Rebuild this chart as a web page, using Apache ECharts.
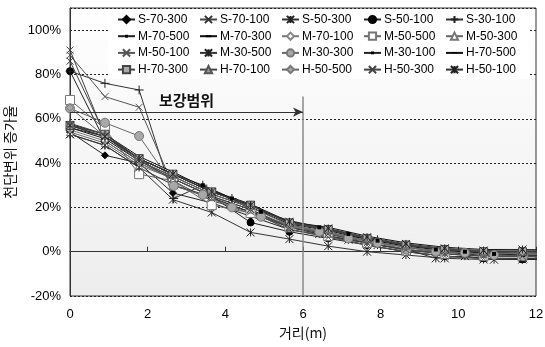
<!DOCTYPE html>
<html>
<head>
<meta charset="utf-8">
<script src="https://cdn.jsdelivr.net/npm/echarts@6/dist/echarts.min.js"></script>
<style>
  html, body { margin: 0; padding: 0; background: #fff; }
  #chart { width: 545px; height: 347px; }
</style>
</head>
<body>
<div id="chart"></div>
<script>
// Gauge distances (m). The "30" sections were read at a finer spacing.
const xMain = [0, 0.9, 1.78, 2.65, 3.65, 4.65, 5.65, 6.65, 7.65, 8.65, 9.65, 10.65, 11.65, 12.65];
const xFine = [0, 0.9, 1.78, 2.67, 3.42, 4.17, 4.92, 5.67, 6.42, 7.17, 7.92, 8.67, 9.42, 10.17, 10.92, 11.67, 12.42];

// Crown settlement increase ratio (%) per case
const S_70_300 = [54, 43.5, 40, 26.5, 22, 16, 10, 7, 4, 1, -1, -2, -2, -2.5];
const S_70_100 = [86, 53, 42, 32, 23, 18, 10, 7, 3, 0, -2, -3, -3, -3];
const S_50_300 = [53, 48, 38, 23.5, 17.7, 8.7, 5.7, 2.5, 0, -1.5, -3, -3.5, -3.5, -3.5];
const S_50_100 = [81.5, 50, 40, 33, 25, 13.2, 9, 6, 3, 0, -2, -3, -3.5, -3.5];
const S_30_100 = [81.5, 76, 73, 24, 30, 24, 16, 12, 9, 7, 5.4, 2, 0, -1, -2, -2, -2.5];
const M_70_500 = [57, 52, 42, 35, 27, 21, 13, 10, 6, 3, 1, 0, 0, -0.5];
const M_70_300 = [56, 51, 41, 34, 26, 20, 12.5, 9.5, 5.5, 2.5, 0.5, -0.5, -0.5, -1];
const M_70_100 = [55, 50, 40, 33, 25, 19, 11.5, 8.5, 5, 2, 0, -1, -1, -1.5];
const M_50_500 = [68.5, 55.5, 35, 32, 21, 17.5, 11, 7, 4, 0.5, -1, -2, -2, -2];
const M_50_300 = [54, 49, 39, 33, 25, 19, 11, 8, 5, 2, 0, -1, -1, -1.5];
const M_50_100 = [88.7, 70, 65.2, 30, 24, 18, 10, 6.5, 3, 0, -2, -3, -3, -3];
const M_30_500 = [53, 48, 38, 30, 26, 21, 16, 11, 8, 5.4, 3, 1, -3, -2, -3.6, -3, -3];
const M_30_300 = [64.7, 58.2, 52.2, 29.7, 25.7, 20, 15.8, 12, 9, 6, 4, 1, 0, -0.5, -1.5, -2, -2];
const M_30_100 = [56, 52, 42, 35, 30, 24, 18, 14, 11, 8, 5, 3, 1, 0, -1, -1.5, -2];
const H_70_500 = [57.5, 53, 43, 36, 27.5, 21.5, 13.5, 11, 7, 4, 2, 1, 1, 0.5];
const H_70_300 = [57, 53, 42, 35, 27, 21, 13, 10, 6, 3, 1, 0, 0, -0.5];
const H_70_100 = [58, 53, 42, 35, 27, 21, 13, 10, 6, 3, 1, 0, 0.5, 0];
const H_50_500 = [65, 52, 41, 34, 26, 20, 12, 9, 5, 2, 0, -1, -0.5, -1];
const H_50_300 = [91, 52, 41, 33, 25, 19, 11, 8, 4, 1, -1, -2, -2, -2];
const H_50_100 = [57, 52, 42, 35, 27, 21, 13.5, 10.5, 6.5, 3.5, 1.5, 0.5, 1, 0.5];

const caseNames = [
  'S-70-300', 'S-70-100', 'S-50-300', 'S-50-100', 'S-30-100',
  'M-70-500', 'M-70-300', 'M-70-100', 'M-50-500', 'M-50-300',
  'M-50-100', 'M-30-500', 'M-30-300', 'M-30-100', 'H-70-500',
  'H-70-300', 'H-70-100', 'H-50-500', 'H-50-300', 'H-50-100'
];
const caseValues = [
  S_70_300, S_70_100, S_50_300, S_50_100, S_30_100,
  M_70_500, M_70_300, M_70_100, M_50_500, M_50_300,
  M_50_100, M_30_500, M_30_300, M_30_100, H_70_500,
  H_70_300, H_70_100, H_50_500, H_50_300, H_50_100
];
const caseUsesFine = [
  false, false, false, false, true,
  false, false, false, false, false,
  false, true, true, true, false,
  false, false, false, false, false
];

// Axis ticks
const xTicks = { min: 0, max: 12, step: 2 };
const yTicks = { min: -20, max: 110, step: 20 };

// Reinforced span annotation
const spanLabel = '보강범위';
const spanFrom = 0, spanTo = 6, spanLevel = 63, spanLineTop = 70;

// Marker shapes (the leading moves pad the bounding box so small marks stay small)
const P_CROSS = 'path://M0 0L10 10M10 0L0 10';
const P_STAR = 'path://M0 0L10 10M10 0L0 10M5 0L5 10';
const P_PLUS = 'path://M5 0L5 10M0 5L10 5';
const P_DOT = 'path://M0 0M10 10M3 3h4v4h-4z';
const P_BAR = 'path://M0 0M10 10M1 3.6h8v2.8h-8z';
const P_THIN = 'path://M0 0M10 10M1 4.4h8v1.2h-8z';
const CLEAR = 'rgba(0,0,0,0)';

const markers = [
  { symbol: 'diamond', size: 7, fill: '#000', stroke: '#000', line: '#222' },
  { symbol: P_CROSS, size: 7, fill: CLEAR, stroke: '#333', line: '#444' },
  { symbol: P_STAR, size: 8, fill: CLEAR, stroke: '#222', line: '#333' },
  { symbol: 'circle', size: 7, fill: '#000', stroke: '#000', line: '#222' },
  { symbol: P_PLUS, size: 9, fill: CLEAR, stroke: '#222', line: '#333' },
  { symbol: P_DOT, size: 10, fill: '#000', stroke: CLEAR, line: '#222' },
  { symbol: P_BAR, size: 10, fill: '#000', stroke: CLEAR, line: '#111' },
  { symbol: 'diamond', size: 7, fill: '#fff', stroke: '#888', line: '#777' },
  { symbol: 'rect', size: 9, fill: '#fff', stroke: '#777', line: '#666' },
  { symbol: 'triangle', size: 7, fill: '#fff', stroke: '#777', line: '#666' },
  { symbol: P_CROSS, size: 7, fill: CLEAR, stroke: '#555', line: '#555' },
  { symbol: P_STAR, size: 8, fill: CLEAR, stroke: '#222', line: '#333' },
  { symbol: 'circle', size: 9, fill: '#a8a8a8', stroke: '#777', line: '#666' },
  { symbol: P_DOT, size: 10, fill: '#000', stroke: CLEAR, line: '#222' },
  { symbol: P_THIN, size: 10, fill: '#000', stroke: CLEAR, line: '#111' },
  { symbol: 'rect', size: 8, fill: '#aaa', stroke: '#444', line: '#444' },
  { symbol: 'triangle', size: 7, fill: '#999', stroke: '#555', line: '#444' },
  { symbol: 'diamond', size: 7, fill: '#aaa', stroke: '#777', line: '#666' },
  { symbol: P_CROSS, size: 7, fill: CLEAR, stroke: '#444', line: '#444' },
  { symbol: P_STAR, size: 8, fill: CLEAR, stroke: '#222', line: '#333' }
];

const FONT = '"Liberation Sans", Arial, sans-serif';
const KFONT = '"Noto Sans CJK KR", sans-serif';

const series = caseNames.map((name, i) => {
  const xs = caseUsesFine[i] ? xFine : xMain;
  const m = markers[i];
  return {
    name: name,
    type: 'line',
    data: caseValues[i].map((v, k) => [xs[k], v]),
    symbol: m.symbol,
    symbolSize: m.size,
    showAllSymbol: true,
    clip: true,
    animation: false,
    lineStyle: { color: m.line, width: 1 },
    itemStyle: { color: m.fill, borderColor: m.stroke, borderWidth: 1 },
    emphasis: { disabled: true },
    z: 3
  };
});

// Reinforcement range: arrow from the face and the boundary line at 6 m
series.push({
  name: 'span',
  type: 'line',
  data: [],
  silent: true,
  animation: false,
  markLine: {
    silent: true,
    animation: false,
    symbol: ['none', 'none'],
    data: [
      [
        { coord: [spanTo, yTicks.min], lineStyle: { color: '#8a8a8a', width: 1.5, type: 'solid' }, label: { show: false } },
        { coord: [spanTo, spanLineTop] }
      ],
      [
        { coord: [spanFrom, spanLevel], symbol: 'none', lineStyle: { color: '#333', width: 1, type: 'solid' },
          label: { show: true, position: 'middle', formatter: spanLabel, distance: 4,
                   fontFamily: KFONT, fontWeight: 'bold', fontSize: 15, color: '#111' } },
        { coord: [spanTo, spanLevel], symbol: 'arrow', symbolSize: [7, 10] }
      ]
    ]
  },
  z: 2
});

// One legend block per case, laid out in a 5 x 4 grid
const legendCol0 = 117, legendColStep = 82, legendRow0 = 13.5, legendRowStep = 16.7;
const legends = caseNames.map((name, i) => ({
  data: [name],
  left: legendCol0 + (i % 5) * legendColStep,
  top: legendRow0 + Math.floor(i / 5) * legendRowStep,
  orient: 'horizontal',
  padding: 0,
  itemGap: 0,
  itemWidth: 17,
  itemHeight: 9,
  selectedMode: false,
  textStyle: { fontFamily: FONT, fontSize: 12, color: '#000', padding: [0, 0, 0, -2] },
  z: 6
}));

const chart = echarts.init(document.getElementById('chart'), null, { renderer: 'canvas' });
chart.setOption({
  animation: false,
  backgroundColor: '#fff',
  grid: {
    left: 70, right: 9, top: 8, bottom: 51,
    outerBoundsMode: 'none',
    containLabel: false,
    show: true,
    borderColor: '#333',
    borderWidth: 1,
    backgroundColor: {
      type: 'linear', x: 0, y: 0, x2: 0, y2: 1,
      colorStops: [{ offset: 0, color: '#ffffff' }, { offset: 1, color: '#ededed' }]
    }
  },
  xAxis: {
    type: 'value',
    min: xTicks.min, max: xTicks.max, interval: xTicks.step,
    name: '거리(m)',
    nameLocation: 'middle',
    nameGap: 30,
    nameTextStyle: { fontFamily: KFONT, fontSize: 14, color: '#111' },
    axisLine: { lineStyle: { color: '#333', width: 1 } },
    axisTick: { show: true, inside: true, length: 5, lineStyle: { color: '#333' } },
    axisLabel: { fontFamily: FONT, fontSize: 13, color: '#000', margin: 12 },
    splitLine: { show: false }
  },
  yAxis: {
    type: 'value',
    min: yTicks.min, max: yTicks.max, interval: yTicks.step,
    name: '천단변위 증가율',
    nameLocation: 'middle',
    nameRotate: 90,
    nameGap: 46,
    nameTextStyle: { fontFamily: KFONT, fontSize: 14, color: '#111' },
    axisLine: { show: true, lineStyle: { color: '#333', width: 1 } },
    axisTick: { show: false },
    axisLabel: {
      fontFamily: FONT, fontSize: 13, color: '#000', margin: 9,
      showMaxLabel: false,
      formatter: v => (v > 100 ? '' : v + '%')
    },
    splitLine: { show: true, lineStyle: { color: '#222', width: 1, type: [2, 2] } }
  },
  legend: legends,
  graphic: [{
    type: 'rect',
    shape: { x: 108, y: 9, width: 422, height: 70 },
    style: { fill: '#fff' },
    z: 1,
    silent: true
  }],
  series: series
});
</script>
</body>
</html>
